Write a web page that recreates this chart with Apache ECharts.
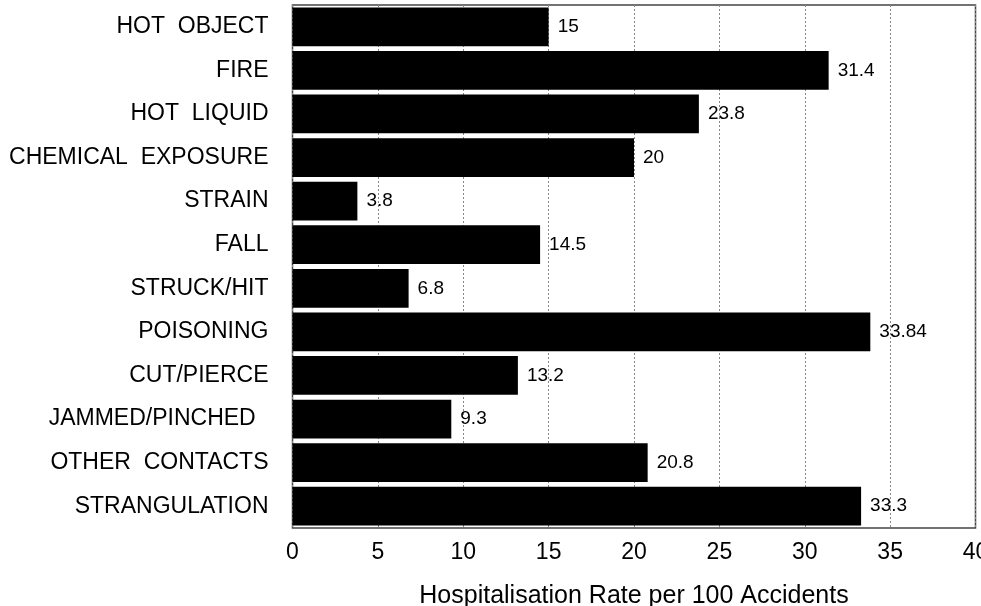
<!DOCTYPE html>
<html>
<head>
<meta charset="utf-8">
<script src="https://cdn.jsdelivr.net/npm/echarts@6/dist/echarts.min.js"></script>
<style>html,body{margin:0;padding:0;background:#fff;overflow:hidden;}#c{width:981px;height:606px;}</style>
</head>
<body>
<div id="c"></div>
<script>
var categories = ['HOT  OBJECT', 'FIRE', 'HOT  LIQUID', 'CHEMICAL  EXPOSURE', 'STRAIN', 'FALL', 'STRUCK/HIT', 'POISONING', 'CUT/PIERCE', 'JAMMED/PINCHED  ', 'OTHER  CONTACTS', 'STRANGULATION'];
var rates = [15, 31.4, 23.8, 20, 3.8, 14.5, 6.8, 33.84, 13.2, 9.3, 20.8, 33.3];
var xTicks = [0, 5, 10, 15, 20, 25, 30, 35, 40];
var axisTitle = 'Hospitalisation Rate per 100 Accidents';

var chart = echarts.init(document.getElementById('c'));
chart.setOption({
  animation: false,
  backgroundColor: '#fff',
  grid: { left: 292.5, right: 5.5, top: 5, bottom: 78, outerBoundsMode: 'none', containLabel: false,
          show: true, borderColor: '#444', borderWidth: 1.5, backgroundColor: 'transparent' },
  xAxis: {
    type: 'value', min: xTicks[0], max: xTicks[xTicks.length - 1], interval: 5,
    axisLine: { show: false }, axisTick: { show: false },
    axisLabel: { fontFamily: 'Liberation Sans', fontSize: 23, color: '#000', margin: 13, showMaxLabel: true, hideOverlap: false },
    splitLine: { show: true, lineStyle: { type: [2, 2], color: '#888', width: 1 } },
    name: axisTitle, nameLocation: 'middle', nameGap: 56,
    nameTextStyle: { fontFamily: 'Liberation Sans', fontSize: 25, color: '#000' }
  },
  yAxis: {
    type: 'category', data: categories, inverse: true,
    axisLine: { show: false }, axisTick: { show: false },
    axisLabel: { fontFamily: 'Liberation Sans', fontSize: 23, color: '#000', margin: 24 }
  },
  series: [{
    type: 'bar', data: rates, barCategoryGap: '11%',
    itemStyle: { color: '#000' },
    label: { show: true, position: 'right', distance: 9, fontFamily: 'Liberation Sans', fontSize: 19, color: '#000' }
  }]
});
</script>
</body>
</html>
